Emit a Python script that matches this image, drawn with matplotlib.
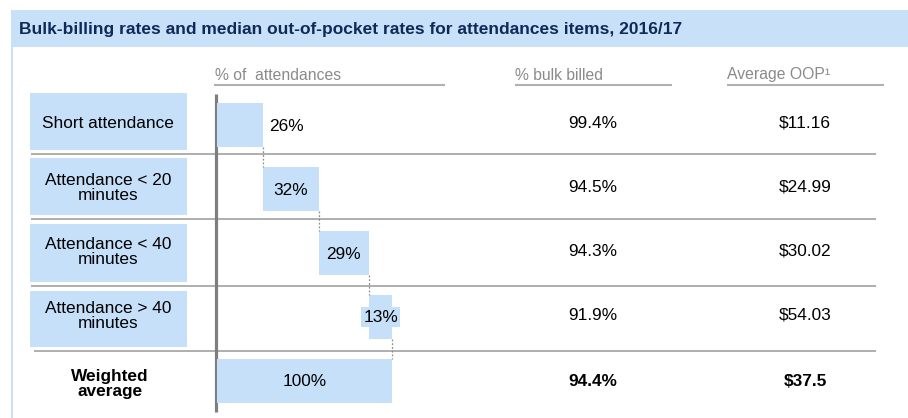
import matplotlib
matplotlib.use("Agg")
import matplotlib.pyplot as plt
from matplotlib.patches import Rectangle
import numpy as np

plt.rcParams['font.family'] = ['Liberation Sans', 'DejaVu Sans']

# ---- data ----
categories = ["Short attendance", "Attendance < 20\nminutes", "Attendance < 40\nminutes",
              "Attendance > 40\nminutes"]
total_label = "Weighted\naverage"
share_pct = [26, 32, 29, 13]
total_pct = 100
bulk_billed = ["99.4%", "94.5%", "94.3%", "91.9%"]
avg_oop = ["$11.16", "$24.99", "$30.02", "$54.03"]
total_bulk = "94.4%"
total_oop = "$37.5"
title = "Bulk-billing rates and median out-of-pocket rates for attendances items, 2016/17"
col_headers = ["% of  attendances", "% bulk billed", "Average OOP\u00b9"]

BAR = "#c6e0fa"
BAND = "#c9e1f8"
NAVY = "#0e2a5a"
GRAY_TXT = "#8a8a8a"
LINE = "#a8a8a8"
AXIS = "#7f7f7f"
FS = 12.4

W, H = 908, 418
fig = plt.figure(figsize=(W / 100, H / 100), dpi=100)
bg = fig.add_axes([0, 0, 1, 1])
bg.set_xlim(0, W)
bg.set_ylim(H, 0)
bg.axis("off")

# header band and left border
bg.add_patch(Rectangle((11, 10), W - 11, 37, facecolor=BAND, edgecolor="none"))
bg.add_patch(Rectangle((11, 47), 2, H - 47, facecolor=BAND, edgecolor="none"))
bg.text(19, 29.5, title, fontsize=12.5, fontweight="bold", color=NAVY, va="center", ha="left")

# column headers with underlines
hdr = [(215, 214, 445), (515, 515, 672), (727, 727, 884)]
for txt, (tx, x0, x1) in zip(col_headers, hdr):
    bg.text(tx, 75, txt, fontsize=11.3, color=GRAY_TXT, ha="left", va="center")
    bg.plot([x0, x1], [85, 85], color="#b0b0b0", lw=1.5, solid_capstyle="butt")

# row label boxes
row_boxes = [(93, 150), (158, 215), (224, 282), (291, 347)]
row_centers = [125, 189, 253, 317, 381]
for (y0, y1), lab, yc in zip(row_boxes, categories, row_centers):
    bg.add_patch(Rectangle((30, y0), 157, y1 - y0, facecolor=BAR, edgecolor="none"))
    bg.text(108, yc - 1, lab, fontsize=FS, ha="center", va="center", linespacing=1.05)
bg.text(110, 384, total_label, fontsize=FS, fontweight="bold", ha="center", va="center",
        linespacing=1.05)

# separators
for y, x0 in zip([154, 219, 286, 351], [31, 31, 31, 34]):
    bg.plot([x0, 876], [y, y], color=LINE, lw=1.3, solid_capstyle="butt")

# right columns
for yc, b, o in zip(row_centers, bulk_billed, avg_oop):
    bg.text(593, yc - 2, b, fontsize=FS, ha="center", va="center")
    bg.text(805, yc - 2, o, fontsize=FS, ha="center", va="center")
bg.text(593, row_centers[4] + 1, total_bulk, fontsize=FS, fontweight="bold", ha="center", va="center")
bg.text(805, row_centers[4] + 1, total_oop, fontsize=FS, fontweight="bold", ha="center", va="center")

# ---- waterfall bars ----
ax = fig.add_axes([217 / W, 1 - 413 / H, 175 / W, 320 / H])
ax.set_xlim(0, 100)
ax.set_ylim(4.5, -0.5)
ax.axis("off")
ax.patch.set_alpha(0)

lefts = np.concatenate([[0], np.cumsum(share_pct)[:-1]])
ypos = np.arange(len(share_pct))
bh = 0.70
ax.barh(ypos, share_pct, left=lefts, height=bh, color=BAR, edgecolor="none")
ax.barh([4], [total_pct], left=[0], height=bh, color=BAR, edgecolor="none")

# connectors
ends = lefts + np.array(share_pct)
for i, e in enumerate(ends):
    ax.plot([e, e], [i + bh / 2, i + 1 - bh / 2], color="#8c8c8c", lw=0.9,
            linestyle=(0, (1.5, 1.5)), clip_on=False)

# labels
for i, (l, v) in enumerate(zip(lefts, share_pct)):
    if i == 0:
        ax.text(l + v + 3.5, i + 0.03, f"{v}%", fontsize=FS, ha="left", va="center", clip_on=False)
    elif i == 3:
        ax.text(l + v / 2, i, f"{v}%", fontsize=FS, ha="center", va="center", clip_on=False,
                bbox=dict(boxstyle="square,pad=0.12", facecolor=BAR, edgecolor="none"))
    else:
        ax.text(l + v / 2, i + 0.02, f"{v}%", fontsize=FS, ha="center", va="center", clip_on=False)
ax.text(total_pct / 2, 4, f"{total_pct}%", fontsize=FS, ha="center", va="center")

# vertical axis line
bg.plot([215.5, 215.5], [94, 412], color=AXIS, lw=2.3, solid_capstyle="butt", zorder=5)

fig.savefig("out.png", dpi=100)
